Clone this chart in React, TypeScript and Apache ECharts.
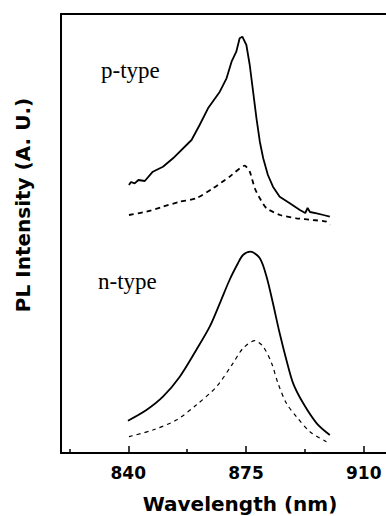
import React, { useEffect, useRef } from "react";
import * as echarts from "echarts";

const xMin = 820;
const xMax = 916.6;
const majorTicks = [840, 875, 910];
const minorTicks = [822.5, 857.5, 892.5];
const yMax = 439;

const pSolidWl = [840.2, 840.8, 841.9, 843.0, 844.9, 847.3, 850.3, 853.3, 857.3, 858.8, 861.2, 863.7, 867.2, 869.2, 870.7, 872.1, 873.1, 873.9, 875.1, 876.1, 877.1, 878.1, 879.1, 880.1, 881.5, 883.0, 885.0, 888.0, 891.0, 892.6, 893.3, 894.0, 896.0, 898.0, 899.9];
const pSolidVal = [268, 271, 269.7, 273, 272, 281.3, 286.3, 294.7, 308, 313, 328, 344.7, 361.3, 374.7, 391.3, 401.3, 414.7, 416.3, 408, 388, 361.3, 334.7, 311.3, 294.7, 278, 266.3, 256.3, 249.7, 243, 240, 245, 241, 239.7, 238, 236.3];

const pDashWl = [840.2, 845.4, 850.3, 855.3, 860.2, 865.2, 870.1, 874.6, 876.1, 877.6, 879.1, 881.1, 885.1, 890.0, 894.9, 898.9, 899.9];
const pDashVal = [238, 241.3, 246.3, 251.3, 254.7, 264.7, 276.3, 287.3, 281.3, 264.7, 254.7, 244.7, 238, 234.7, 233, 231.3, 228];

const nSolidWl = [839.9, 845.4, 850.3, 855.3, 860.2, 864.2, 867.2, 870.1, 872.6, 874.1, 876.3, 879.1, 881.1, 883.0, 885.0, 887.0, 889.0, 892.0, 896.0, 899.9];
const nSolidVal = [32.3, 43, 56.3, 76.3, 103, 126.3, 149.7, 173, 189.7, 198, 201.3, 194.7, 176.3, 149.7, 119.7, 93, 69.7, 49.7, 29.7, 18];

const nDashWl = [840.2, 847.3, 854.3, 860.2, 866.2, 871.1, 874.1, 877.6, 880.1, 882.6, 884.5, 887.0, 890.0, 894.0, 898.9];
const nDashVal = [16.3, 23, 33, 48, 66.3, 89.7, 104.7, 112.3, 106.3, 89.7, 69.7, 49.7, 36.3, 21.3, 11.3];

const zip = (xs: number[], ys: number[]) => xs.map((x, i) => [x, ys[i]]);

export default function App() {
  const ref = useRef<HTMLDivElement>(null);
  useEffect(() => {
    const chart = echarts.init(ref.current!, null, { renderer: "svg" });
    const axisFont = { fontFamily: "DejaVu Sans", fontWeight: "bold" as const, color: "#000" };
    chart.setOption({
      animation: false,
      backgroundColor: "#fff",
      grid: { left: 61, top: 14, right: 0, bottom: 63, containLabel: false, outerBoundsMode: "none" },
      xAxis: [
        {
          type: "value",
          min: xMin,
          max: xMax,
          position: "bottom",
          axisLine: { show: true, lineStyle: { color: "#000", width: 2 } },
          axisTick: { show: true, inside: true, length: 7, customValues: majorTicks, lineStyle: { color: "#000", width: 1.5 } },
          axisLabel: { customValues: majorTicks, ...axisFont, fontSize: 17, margin: 11 },
          splitLine: { show: false },
          name: "Wavelength (nm)",
          nameLocation: "middle",
          nameGap: 41,
          nameTextStyle: { ...axisFont, fontSize: 20, verticalAlign: "top", padding: [0, 0, 0, 33] },
        },
        {
          type: "value",
          min: xMin,
          max: xMax,
          position: "bottom",
          axisLine: { show: false },
          axisTick: { show: true, inside: true, length: 4, customValues: minorTicks, lineStyle: { color: "#000", width: 1.5 } },
          axisLabel: { show: false },
          splitLine: { show: false },
        },
        {
          type: "value",
          min: xMin,
          max: xMax,
          position: "top",
          axisLine: { show: true, lineStyle: { color: "#000", width: 2 } },
          axisTick: { show: false },
          axisLabel: { show: false },
          splitLine: { show: false },
        },
      ],
      yAxis: {
        type: "value",
        min: 0,
        max: yMax,
        axisLine: { show: true, lineStyle: { color: "#000", width: 2 } },
        axisTick: { show: false },
        axisLabel: { show: false },
        splitLine: { show: false },
        name: "PL Intensity (A. U.)",
        nameLocation: "middle",
        nameGap: 28,
        nameTextStyle: { ...axisFont, fontSize: 20, padding: [0, 0, 0, 57] },
      },
      graphic: [
        { type: "text", left: 101, top: 59, style: { text: "p-type", font: "23px 'Liberation Serif'", fill: "#000" } },
        { type: "text", left: 98, top: 270, style: { text: "n-type", font: "23px 'Liberation Serif'", fill: "#000" } },
      ],
      series: [
        { type: "line", name: "p solid", data: zip(pSolidWl, pSolidVal), showSymbol: false, symbol: "none", lineStyle: { color: "#000", width: 1.8 } },
        { type: "line", name: "p dashed", data: zip(pDashWl, pDashVal), showSymbol: false, symbol: "none", smooth: 0.2, lineStyle: { color: "#000", width: 1.8, type: [5, 4] } },
        { type: "line", name: "n solid", data: zip(nSolidWl, nSolidVal), showSymbol: false, symbol: "none", smooth: 0.3, lineStyle: { color: "#000", width: 1.8 } },
        { type: "line", name: "n dashed", data: zip(nDashWl, nDashVal), showSymbol: false, symbol: "none", smooth: 0.3, lineStyle: { color: "#000", width: 1.2, type: [4, 4] } },
      ],
    });
    return () => chart.dispose();
  }, []);
  return <div ref={ref} style={{ position: "fixed", left: 0, top: 0, width: 386, height: 516, background: "#fff" }} />;
}
